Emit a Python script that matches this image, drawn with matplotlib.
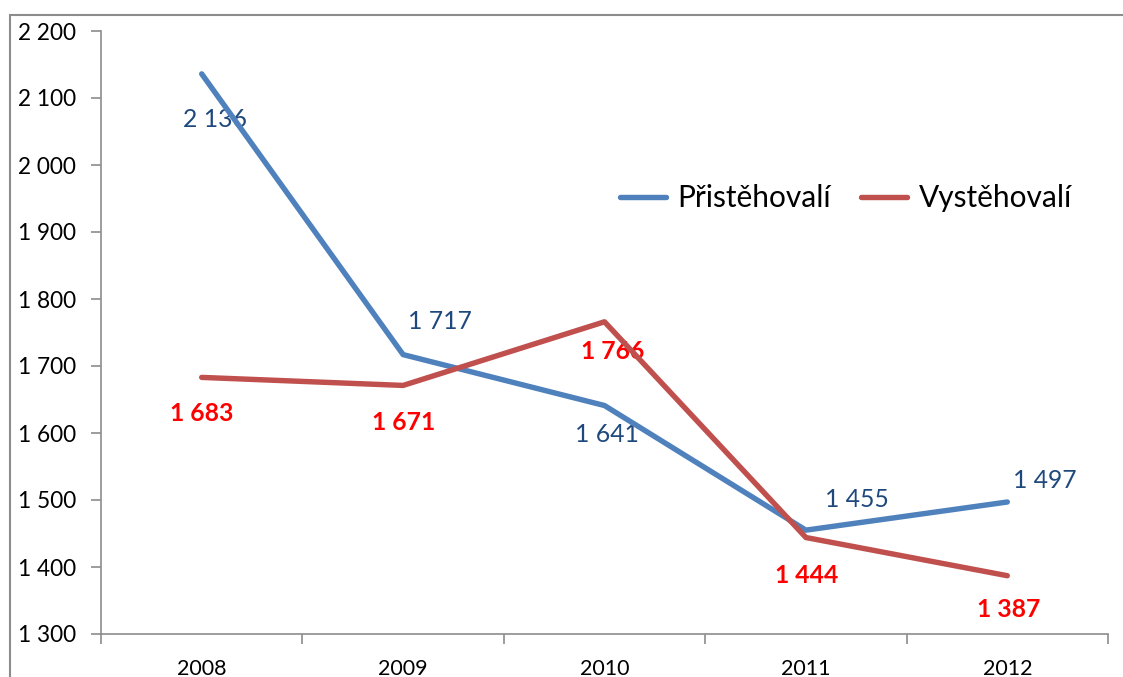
import matplotlib
matplotlib.use("Agg")
import matplotlib.pyplot as plt
from matplotlib.patches import Rectangle
from matplotlib.ticker import FuncFormatter, MultipleLocator

years = ["2008", "2009", "2010", "2011", "2012"]
prist = [2136, 1717, 1641, 1455, 1497]
vyst = [1683, 1671, 1766, 1444, 1387]
series_names = ["Přistěhovalí", "Vystěhovalí"]

# label offsets in pixels (dx, dy)
prist_off = [(13, -46), (37, 33), (2, -29), (51, 31), (38, 22)]
vyst_off = [(0, -36), (1, -37), (8, -30), (1, -38), (1, -34)]

W, H = 1123, 677
plt.rcParams['font.family'] = ['Lato', 'DejaVu Sans']
fig = plt.figure(figsize=(W / 100, H / 100), dpi=100)

# outer chart frame (cropped at right/bottom)
fig.patches.append(Rectangle((9.5 / W, -0.1), 1.2, 1 - 14.5 / H + 0.1,
                             transform=fig.transFigure, fill=False,
                             edgecolor='#8c8c8c', linewidth=1.5, zorder=0))

ax = fig.add_axes([101 / W, 1 - 634 / H, (1108 - 101) / W, (634 - 31) / H])

x = list(range(len(years)))
blue = '#4F81BD'
red = '#C0504D'
ax.plot(x, prist, color=blue, lw=3.9, solid_capstyle='round', label=series_names[0], zorder=3)
ax.plot(x, vyst, color=red, lw=3.9, solid_capstyle='round', label=series_names[1], zorder=3)

fmt = lambda v: f"{v:,.0f}".replace(",", " ")
for xi, v, (dx, dy) in zip(x, prist, prist_off):
    ax.annotate(fmt(v), (xi, v), xytext=(dx, dy), textcoords='offset pixels',
                ha='center', va='center', fontsize=17.8, color='#1F497D', zorder=2)
for xi, v, (dx, dy) in zip(x, vyst, vyst_off):
    ax.annotate(fmt(v), (xi, v), xytext=(dx, dy), textcoords='offset pixels',
                ha='center', va='center', fontsize=17.8, color='#FF0000',
                fontweight='bold', zorder=2)

ax.set_xlim(-0.5, len(years) - 0.5)
ax.set_ylim(1300, 2200)
ax.yaxis.set_major_locator(MultipleLocator(100))
ax.yaxis.set_major_formatter(FuncFormatter(lambda v, p: fmt(v)))
ax.set_xticks(x)
ax.set_xticklabels(years)
ax.set_xticks([i - 0.5 for i in range(len(years) + 1)], minor=True)
ax.tick_params(axis='x', which='major', length=0, pad=18, labelsize=15.5)
ax.tick_params(axis='x', which='minor', length=7, color='#8c8c8c', width=1.2)
ax.tick_params(axis='y', which='major', length=7, color='#8c8c8c', width=1.2,
               pad=11, labelsize=16.3)
for s in ['top', 'right']:
    ax.spines[s].set_visible(False)
for s in ['left', 'bottom']:
    ax.spines[s].set_color('#8c8c8c')
    ax.spines[s].set_linewidth(1.2)

fig.legend(loc='center left', bbox_to_anchor=(620 / W, 1 - 198 / H), ncol=2,
           frameon=False, fontsize=21.5, handlelength=1.55, handletextpad=0.38,
           columnspacing=1.0, borderpad=0, borderaxespad=0)

fig.savefig("out.png", dpi=100)
